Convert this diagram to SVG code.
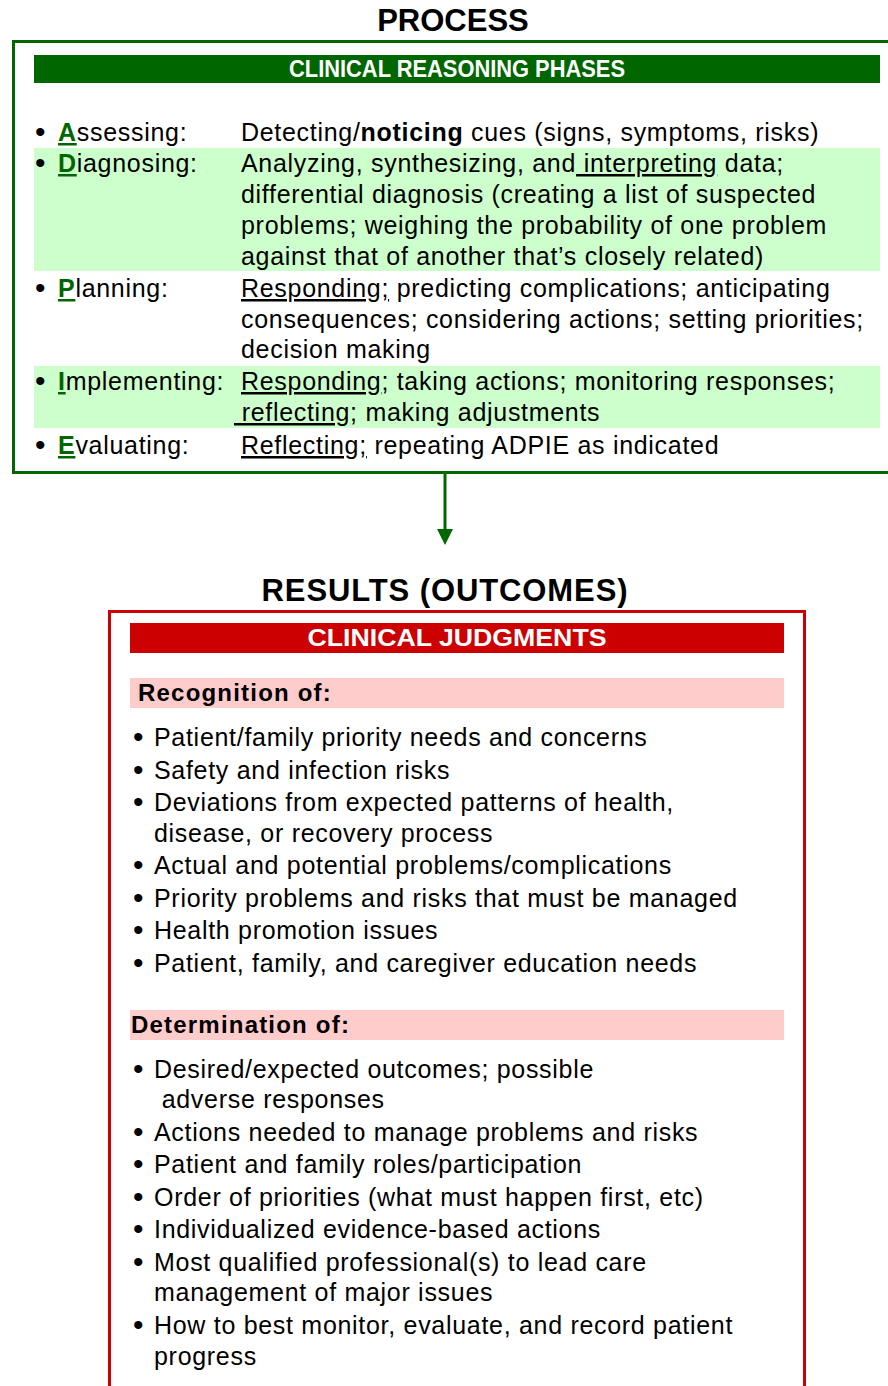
<svg xmlns="http://www.w3.org/2000/svg" width="888" height="1386" viewBox="0 0 888 1386">
<style>
text{font-family:"Liberation Sans",Arial,sans-serif;white-space:pre;fill:#000}
.title{font-size:31px;font-weight:bold;text-anchor:middle}
.hdr{font-size:24px;font-weight:bold;fill:#fff;text-anchor:middle}
.body{font-size:25px;letter-spacing:0.7px}
.b{font-size:30px}
.k{fill:#006600;font-weight:bold;text-decoration:underline}
.u{text-decoration:underline}
.sub{font-size:24px;font-weight:bold;letter-spacing:1.2px}
</style>
<rect width="888" height="1386" fill="#fff"/>
<g id="process">
<text class="title" x="453" y="31">PROCESS</text>
<rect x="13.5" y="41.5" width="880" height="431" fill="none" stroke="#006600" stroke-width="3"/>
<rect x="34" y="55" width="846" height="28" fill="#006600"/>
<text class="hdr" x="457" y="77" textLength="336" lengthAdjust="spacingAndGlyphs">CLINICAL REASONING PHASES</text>
<rect x="34" y="148" width="846" height="123" fill="#ccffcc"/>
<rect x="34" y="366" width="846" height="62" fill="#ccffcc"/>
<text class="b" x="35" y="142">•</text>
<text class="b" x="35" y="173">•</text>
<text class="b" x="35" y="298">•</text>
<text class="b" x="35" y="391">•</text>
<text class="b" x="35" y="455">•</text>
<text class="body" x="58" y="141"><tspan class="k">A</tspan>ssessing:</text>
<text class="body" x="241" y="141">Detecting/<tspan font-weight="bold">noticing</tspan> cues (signs, symptoms, risks)</text>
<text class="body" x="58" y="172"><tspan class="k">D</tspan>iagnosing:</text>
<text class="body" x="241" y="172">Analyzing, synthesizing, and<tspan class="u"> interpreting</tspan> data;</text>
<text class="body" x="241" y="203">differential diagnosis (creating a list of suspected</text>
<text class="body" x="241" y="234">problems; weighing the probability of one problem</text>
<text class="body" x="241" y="265">against that of another that’s closely related)</text>
<text class="body" x="58" y="297"><tspan class="k">P</tspan>lanning:</text>
<text class="body" x="241" y="297"><tspan class="u">Responding;</tspan> predicting complications; anticipating</text>
<text class="body" x="241" y="328">consequences; considering actions; setting priorities;</text>
<text class="body" x="241" y="358">decision making</text>
<text class="body" x="58" y="390"><tspan class="k">I</tspan>mplementing:</text>
<text class="body" x="241" y="390"><tspan class="u">Responding</tspan>; taking actions; monitoring responses;</text>
<text class="body" x="234" y="421"><tspan class="u"> reflecting</tspan>; making adjustments</text>
<text class="body" x="58" y="454"><tspan class="k">E</tspan>valuating:</text>
<text class="body" x="241" y="454"><tspan class="u">Reflecting;</tspan> repeating ADPIE as indicated</text>
</g>
<g id="connectors">
<line x1="445" y1="473" x2="445" y2="530" stroke="#006600" stroke-width="3"/>
<polygon points="437,529 453,529 445,545" fill="#006600"/>
</g>
<g id="results">
<text class="title" x="445" y="601" letter-spacing="0.9">RESULTS (OUTCOMES)</text>
<path d="M109.5,1390 V611.5 H804.5 V1390" fill="none" stroke="#cc0000" stroke-width="3"/>
<rect x="130" y="623" width="654" height="30" fill="#cc0000"/>
<text class="hdr" x="457" y="646" textLength="299" lengthAdjust="spacingAndGlyphs">CLINICAL JUDGMENTS</text>
<rect x="130" y="678" width="654" height="30" fill="#ffcccc"/>
<text class="sub" x="138" y="701">Recognition of:</text>
<g>
<text class="b" x="133" y="747">•</text>
<text class="b" x="133" y="780">•</text>
<text class="b" x="133" y="812">•</text>
<text class="b" x="133" y="875">•</text>
<text class="b" x="133" y="908">•</text>
<text class="b" x="133" y="940">•</text>
<text class="b" x="133" y="973">•</text>
<text class="b" x="133" y="1079">•</text>
<text class="b" x="133" y="1142">•</text>
<text class="b" x="133" y="1174">•</text>
<text class="b" x="133" y="1207">•</text>
<text class="b" x="133" y="1239">•</text>
<text class="b" x="133" y="1272">•</text>
<text class="b" x="133" y="1335">•</text>
</g>
<text class="body" x="154" y="746">Patient/family priority needs and concerns</text>
<text class="body" x="154" y="779">Safety and infection risks</text>
<text class="body" x="154" y="811">Deviations from expected patterns of health,</text>
<text class="body" x="154" y="842">disease, or recovery process</text>
<text class="body" x="154" y="874">Actual and potential problems/complications</text>
<text class="body" x="154" y="907">Priority problems and risks that must be managed</text>
<text class="body" x="154" y="939">Health promotion issues</text>
<text class="body" x="154" y="972">Patient, family, and caregiver education needs</text>
<rect x="130" y="1010" width="654" height="30" fill="#ffcccc"/>
<text class="sub" x="131" y="1033">Determination of:</text>
<text class="body" x="154" y="1078">Desired/expected outcomes; possible</text>
<text class="body" x="154" y="1108"> adverse responses</text>
<text class="body" x="154" y="1141">Actions needed to manage problems and risks</text>
<text class="body" x="154" y="1173">Patient and family roles/participation</text>
<text class="body" x="154" y="1206">Order of priorities (what must happen first, etc)</text>
<text class="body" x="154" y="1238">Individualized evidence-based actions</text>
<text class="body" x="154" y="1271">Most qualified professional(s) to lead care</text>
<text class="body" x="154" y="1301">management of major issues</text>
<text class="body" x="154" y="1334">How to best monitor, evaluate, and record patient</text>
<text class="body" x="154" y="1365">progress</text>
</g>
</svg>
